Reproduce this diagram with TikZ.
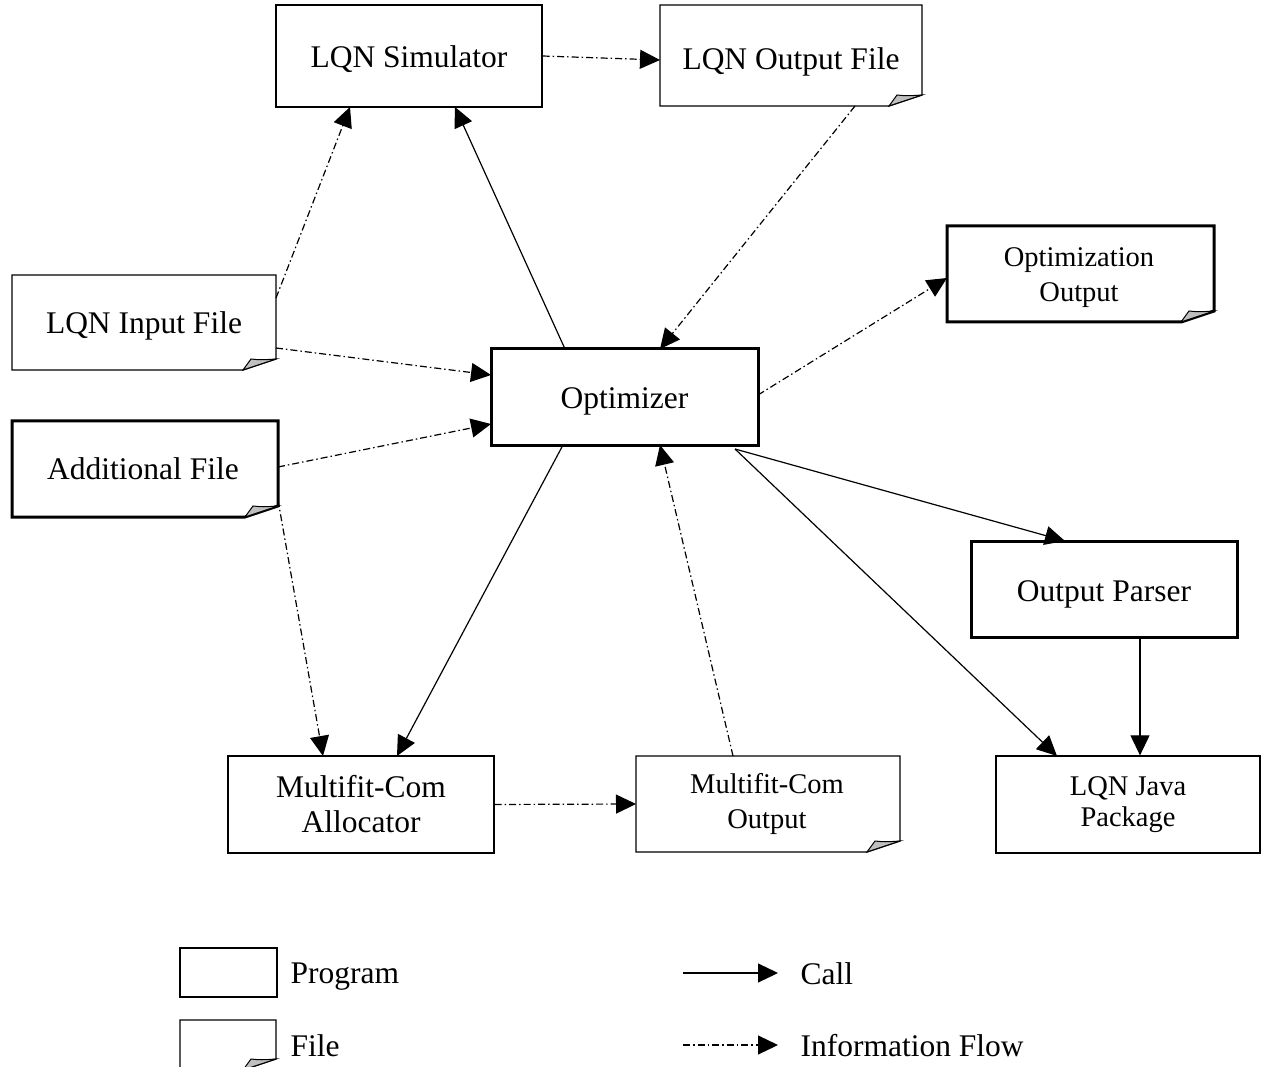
\documentclass[tikz,border=0pt]{standalone}
\usepackage{fontspec}
\setmainfont{Liberation Serif}
\usetikzlibrary{arrows.meta}
\begin{document}
\begin{tikzpicture}[x=1pt,y=-1pt,
  prog/.style={draw,line width=1.3pt,fill=white},
  progthick/.style={draw,line width=3pt,fill=white},
  big/.style={font=\fontsize{31.5}{36}\selectfont,align=center},
  lowered/.style={text height=30pt,text depth=6pt},
  small/.style={font=\fontsize{28.5}{34}\selectfont,align=center},
  call/.style={line width=1.2pt,-{Triangle[length=20pt,width=19pt]}},
  flow/.style={line width=1.2pt,dash pattern=on 7pt off 3pt on 1.5pt off 3pt,-{Triangle[length=20pt,width=19pt]}},
]
\useasboundingbox (0,0) rectangle (1262,1067);

% file shape: page with a curled bottom-right corner
% #1 = line width, #2 = left, #3 = top, #4 = right, #5 = bottom
\newcommand{\filebox}[5]{%
  \draw[line width=#1,fill=white,line join=miter]
    (#2,#3) -- (#4,#3) -- (#4,#5-11) -- (#4-33,#5) -- (#2,#5) -- cycle;
  \draw[line width=1pt,fill=black!25]
    (#4-33,#5) -- (#4-25,#5-11) .. controls (#4-15,#5-10) .. (#4,#5-11) -- cycle;}

% programs
\node[prog,minimum width=266pt,minimum height=102pt,big,lowered] (sim) at (409,56) {LQN Simulator};
\node[progthick,minimum width=267pt,minimum height=96pt,big,lowered] (opt) at (624.5,397) {Optimizer};
\node[progthick,minimum width=266pt,minimum height=96pt,big,lowered] (parser) at (1104,589) {Output Parser};
\node[prog,minimum width=266pt,minimum height=97pt,big] (alloc) at (361,804.5) {Multifit-Com\\[-1pt]Allocator};
\node[prog,minimum width=264pt,minimum height=97pt,small] (java) at (1128,804.5) {LQN Java\\[-3pt]Package};

% files
\filebox{1.3pt}{660}{5}{922}{106}
\node[big,inner sep=0pt] (outfile) at (791,62) {LQN Output File};
\coordinate (outfileb) at (855,106);
\filebox{1.3pt}{12}{275}{276}{370}
\node[big,inner sep=0pt] (infile) at (144,326) {LQN Input File};
\coordinate (infiletr) at (276,298);
\coordinate (infiler) at (276,348);
\filebox{3pt}{947}{226}{1214}{322}
\node[small,inner sep=0pt] (optout) at (1079,278) {Optimization\\[1pt]Output};
\coordinate (optoutl) at (947,278);
\filebox{3pt}{12}{421}{278}{517}
\node[big,inner sep=0pt] (addfile) at (143,469) {Additional File};
\coordinate (addr) at (278,467);
\coordinate (addb) at (278,500);
\filebox{1.3pt}{636}{756}{900}{852}
\node[small,inner sep=0pt] (mfout) at (767,804) {Multifit-Com\\[1pt]Output};
\coordinate (mfoutl) at (636,804);
\coordinate (mfoutt) at (733,756);

% calls
\draw[call] (565,349) -- (455,107);
\draw[call] (563,445) -- (397,756);
\draw[call] (735,449) -- (1065,541);
\draw[call] (735,449) -- (1057,756);
\draw[call] (parser.south -| 1140,0) -- (java.north -| 1140,0);

% information flows
\draw[flow] (sim.east) -- (660,60);
\draw[flow] (infiletr) -- (350,107);
\draw[flow] (outfileb) -- (660,349);
\draw[flow] (758,395) -- (optoutl);
\draw[flow] (infiler) -- (491,375);
\draw[flow] (addr) -- (491,424);
\draw[flow] (addb) -- (323,756);
\draw[flow] (alloc.east) -- (mfoutl);
\draw[flow] (mfoutt) -- (660,445);

% legend
\node[prog,minimum width=97pt,minimum height=49pt] (lprog) at (228.5,972.5) {};
\node[big,anchor=west] (lprogt) at (287,977) {Program};
\filebox{1.3pt}{180}{1020}{276}{1070}
\node[big,anchor=west] (lfilet) at (287,1046) {File};
\coordinate (lcall0) at (683,973);
\coordinate (lcall1) at (778,973);
\draw[call] (lcall0) -- (lcall1);
\node[big,anchor=west] (lcallt) at (797,974) {Call};
\coordinate (lflow0) at (683,1045);
\coordinate (lflow1) at (778,1045);
\draw[flow] (lflow0) -- (lflow1);
\node[big,anchor=west] (lflowt) at (797,1046) {Information Flow};
\end{tikzpicture}
\end{document}
